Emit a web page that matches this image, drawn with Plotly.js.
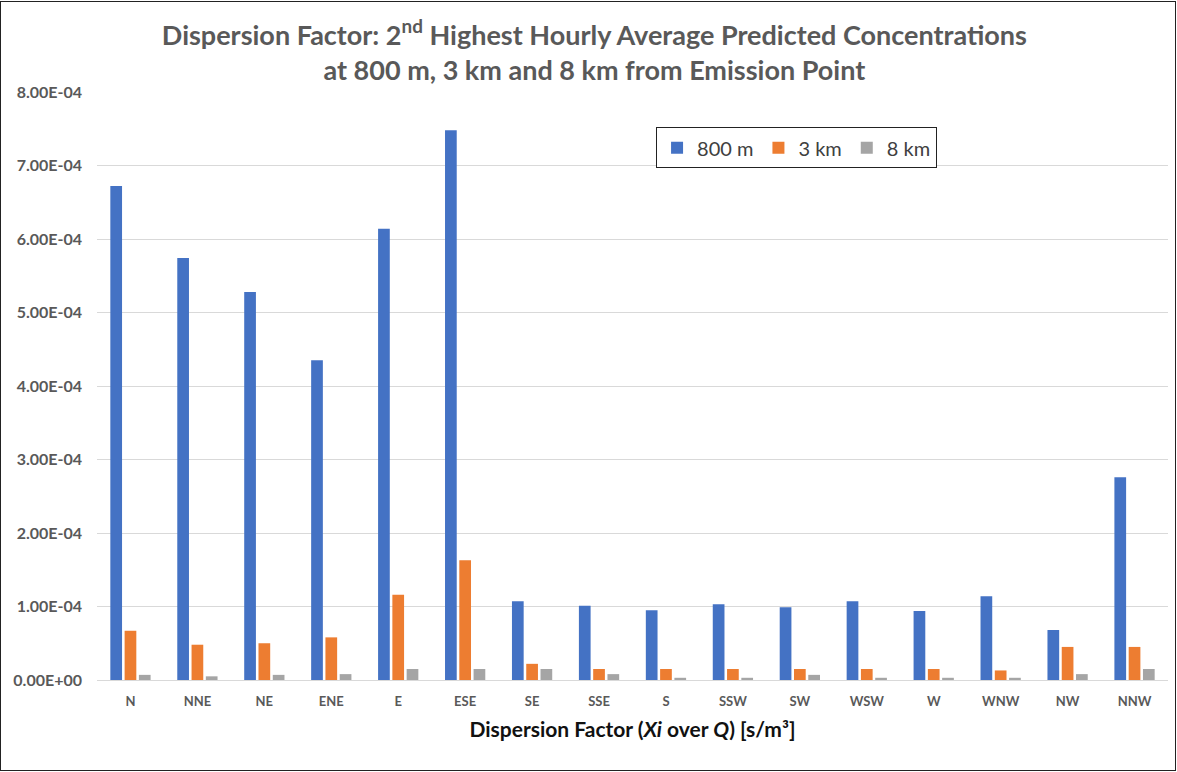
<!DOCTYPE html>
<html>
<head>
<meta charset="utf-8">
<script src="https://cdn.plot.ly/plotly-3.0.1.min.js"></script>
<style>
html,body{margin:0;padding:0;background:#fff;}
#wrap{position:relative;width:1177px;height:772px;}
#chart{width:1177px;height:772px;}
#frame{position:absolute;left:0;top:1px;width:1174px;height:768px;border:1px solid #222;pointer-events:none;}
</style>
</head>
<body>
<div id="wrap"><div id="chart"></div><div id="frame"></div></div>
<script>
const categories = ["N","NNE","NE","ENE","E","ESE","SE","SSE","S","SSW","SW","WSW","W","WNW","NW","NNW"];
const seriesNames = ["800 m","3 km","8 km"];
const values800m = [6.72e-4,5.74e-4,5.28e-4,4.35e-4,6.14e-4,7.48e-4,1.07e-4,1.01e-4,0.95e-4,1.03e-4,0.99e-4,1.07e-4,0.94e-4,1.14e-4,0.68e-4,2.76e-4];
const values3km = [0.67e-4,0.48e-4,0.50e-4,0.58e-4,1.16e-4,1.63e-4,0.22e-4,0.15e-4,0.15e-4,0.15e-4,0.15e-4,0.15e-4,0.15e-4,0.13e-4,0.45e-4,0.45e-4];
const values8km = [0.07e-4,0.05e-4,0.07e-4,0.08e-4,0.15e-4,0.15e-4,0.15e-4,0.08e-4,0.03e-4,0.03e-4,0.07e-4,0.03e-4,0.03e-4,0.03e-4,0.08e-4,0.15e-4];
const yTickVals = [0,1e-4,2e-4,3e-4,4e-4,5e-4,6e-4,7e-4,8e-4];
const yTickText = ["0.00E+00","1.00E-04","2.00E-04","3.00E-04","4.00E-04","5.00E-04","6.00E-04","7.00E-04","8.00E-04"];
const colors = ["#4472C4","#ED7D31","#A5A5A5"];

const allValues = [values800m, values3km, values8km];
const data = allValues.map((v,i)=>({
  type:'bar', x:categories, y:v, name:seriesNames[i],
  marker:{color:colors[i]}, hoverinfo:'x+y+name'
}));

const layout = {
  width:1177, height:772,
  margin:{l:97, r:9, t:92, b:92},
  paper_bgcolor:'#fff', plot_bgcolor:'#fff',
  font:{family:'Lato, "Open Sans", sans-serif', color:'#595959'},
  title:{
    text:'Dispersion Factor: 2<sup>nd</sup> Highest Hourly Average Predicted Concentrations<br>at 800 m, 3 km and 8 km from Emission Point',
    font:{family:'Lato, sans-serif', size:27, color:'#595959', weight:'bold'},
    x:0.505, xanchor:'center', y:0.942, yanchor:'top'
  },
  barmode:'group', bargap:0.36, bargroupgap:0.18,
  xaxis:{
    type:'category', showgrid:false, showline:false, zeroline:false,
    ticks:'', tickfont:{size:13, color:'#595959', family:'Lato, sans-serif', weight:'bold'},
    ticklabelstandoff:12,
    title:{text:'Dispersion Factor (<i>Xi</i> over <i>Q</i>) [s/m³]', font:{size:21, color:'#111', family:'Lato, sans-serif', weight:'bold'}, standoff:14}
  },
  yaxis:{
    range:[0,8e-4], tickvals:yTickVals, ticktext:yTickText,
    showgrid:true, gridcolor:'#D9D9D9', gridwidth:1, zeroline:true, zerolinecolor:'#D9D9D9', zerolinewidth:1,
    showline:false, ticks:'', ticklabelstandoff:14,
    tickfont:{size:16, color:'#595959', family:'Lato, sans-serif', weight:'bold'}
  },
  legend:{
    orientation:'h', x:0.522, y:0.94, xanchor:'left', yanchor:'top',
    bgcolor:'#fff', bordercolor:'#222', borderwidth:1,
    font:{size:20, color:'#404040', family:'Lato, sans-serif'},
    itemwidth:30, traceorder:'normal'
  },
  showlegend:true
};

Plotly.newPlot('chart', data, layout, {displayModeBar:false, staticPlot:true});
</script>
</body>
</html>
